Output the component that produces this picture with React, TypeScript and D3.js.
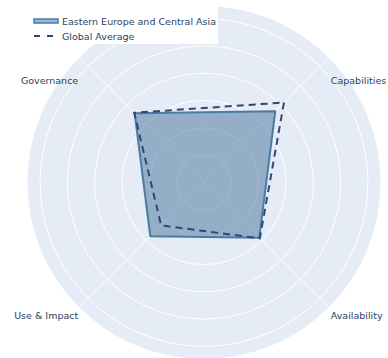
import React from "react";
import * as d3 from "d3";

const categories = ["Capabilities", "Availability", "Use & Impact", "Governance"];
const regionValues = [36.9, 28.6, 27.8, 35.9];
const globalValues = [41.4, 28.9, 22.2, 36.1];
const radialTicks = [10, 20, 30, 40, 50, 60];
const radialMax = 64.6;

const width = 388;
const height = 358;
const cx = 204;
const cy = 182.5;
const radius = 176.5;

const App = () => {
  const r = d3.scaleLinear().domain([0, radialMax]).range([0, radius]);
  // clockwise, first category at 45deg
  const angle = d3
    .scalePoint<string>()
    .domain(categories)
    .range([Math.PI / 4, Math.PI / 4 + (Math.PI * 2 * 3) / 4]);

  const line = d3
    .lineRadial<number>()
    .angle((_, i) => angle(categories[i]) as number)
    .radius((d) => r(d))
    .curve(d3.curveLinearClosed);

  const textColor = "#2a3f5f";
  const font = "DejaVu Sans, Verdana, sans-serif";

  return (
    <svg width={width} height={height} style={{ position: "absolute", left: 0, top: 0 }}>
      <rect width={width} height={height} fill="#fff" />
      <g transform={`translate(${cx},${cy})`}>
        <circle r={radius} fill="#e5ecf6" />
        {radialTicks.map((t) => (
          <circle key={t} r={r(t)} fill="none" stroke="#fff" strokeWidth={1} />
        ))}
        {categories.map((c) => {
          const a = angle(c) as number;
          return (
            <line
              key={c}
              x1={0}
              y1={0}
              x2={radius * Math.sin(a)}
              y2={-radius * Math.cos(a)}
              stroke="#fff"
              strokeWidth={1}
            />
          );
        })}
        <path
          d={line(regionValues) ?? ""}
          fill="rgb(67,112,154)"
          fillOpacity={0.5}
          stroke="#4a7ba3"
          strokeWidth={2}
          strokeLinejoin="round"
        />
        <path
          d={line(globalValues) ?? ""}
          fill="none"
          stroke="#2f4676"
          strokeWidth={2}
          strokeDasharray="7,5"
        />
        {categories.map((c) => {
          const a = angle(c) as number;
          const x = radius * Math.sin(a);
          const y = -radius * Math.cos(a);
          const right = Math.sin(a) > 0;
          const top = Math.cos(a) > 0;
          return (
            <text
              key={c}
              x={x + (right ? 2 : -1)}
              y={y + (top ? 26 : 12)}
              textAnchor={right ? "start" : "end"}
              fontFamily={font}
              fontSize={9.5}
              fill={textColor}
            >
              {c}
            </text>
          );
        })}
      </g>
      <g>
        <rect x={28} y={0} width={190} height={44} fill="#fff" />
        <rect x={34} y={19} width={24} height={4} fill="rgb(67,112,154)" fillOpacity={0.5} stroke="#4a7ba3" strokeWidth={1.5} />
        <text x={62} y={24.5} fontFamily={font} fontSize={9.5} fill={textColor}>
          Eastern Europe and Central Asia
        </text>
        <line x1={34} x2={58} y1={36} y2={36} stroke="#2f4676" strokeWidth={2} strokeDasharray="6,7" />
        <text x={62} y={39.5} fontFamily={font} fontSize={9.5} fill={textColor}>
          Global Average
        </text>
      </g>
    </svg>
  );
};

export default App;
